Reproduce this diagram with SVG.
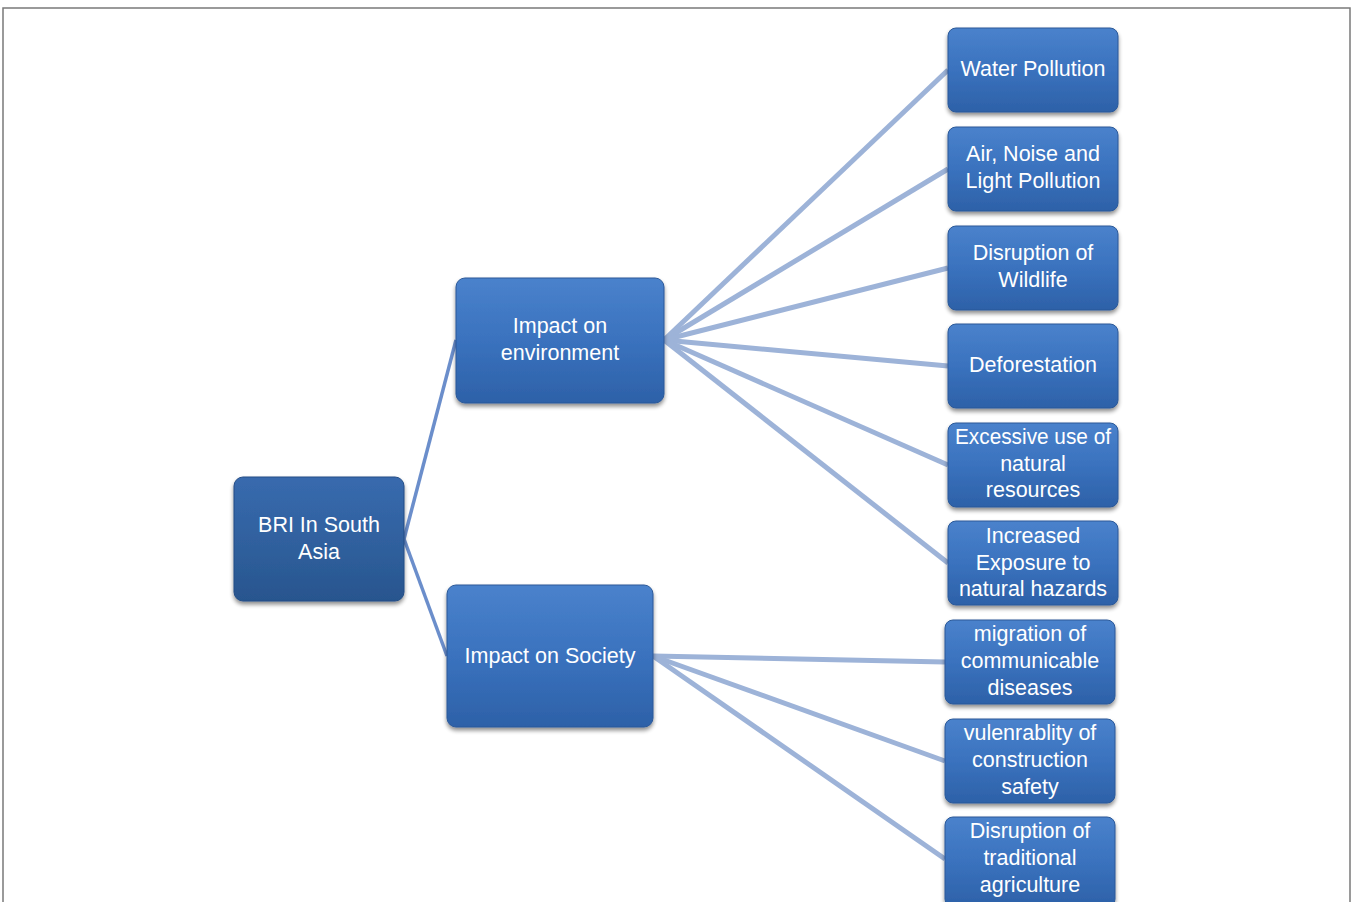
<svg xmlns="http://www.w3.org/2000/svg" width="1352" height="902" viewBox="0 0 1352 902">
<defs>
<linearGradient id="g" x1="0" y1="0" x2="0" y2="1">
<stop offset="0" stop-color="#4a82cc"/>
<stop offset="0.5" stop-color="#3a72be"/>
<stop offset="1" stop-color="#2d61a8"/>
</linearGradient>
<linearGradient id="gd" x1="0" y1="0" x2="0" y2="1">
<stop offset="0" stop-color="#386aae"/>
<stop offset="0.5" stop-color="#30619f"/>
<stop offset="1" stop-color="#28558e"/>
</linearGradient>
<filter id="sh" x="-10%" y="-10%" width="120%" height="130%">
<feGaussianBlur in="SourceAlpha" stdDeviation="2"/>
<feOffset dx="0" dy="3" result="b"/>
<feComponentTransfer><feFuncA type="linear" slope="0.45"/></feComponentTransfer>
<feMerge><feMergeNode/><feMergeNode in="SourceGraphic"/></feMerge>
</filter>
</defs>
<style>
.n{fill:url(#g);stroke:#2b5898;stroke-width:1;filter:url(#sh)}
.nd{fill:url(#gd);stroke:#244d85;stroke-width:1;filter:url(#sh)}
.t{font-family:"Liberation Sans",Arial,sans-serif;font-size:21.5px;fill:#ffffff;text-anchor:middle}
.c1{stroke:#6b8ecb;stroke-width:3.5;fill:none}
.c2{stroke:#9db3d8;stroke-width:5;fill:none}
</style>
<rect x="0" y="0" width="1352" height="902" fill="#ffffff"/>
<path d="M3,902 V8 H1350 V902" fill="none" stroke="#7a7a7a" stroke-width="1.5"/>
<g id="connectors">
<path class="c1" d="M404,539 L456,340"/>
<path class="c1" d="M404,539 L447,656"/>
<path class="c2" d="M664,340 L948,70"/>
<path class="c2" d="M664,340 L948,169"/>
<path class="c2" d="M664,340 L948,268"/>
<path class="c2" d="M664,340 L948,366"/>
<path class="c2" d="M664,340 L948,465"/>
<path class="c2" d="M664,340 L948,563"/>
<path class="c2" d="M653,656 L945,662"/>
<path class="c2" d="M653,656 L945,761"/>
<path class="c2" d="M653,656 L945,859"/>
</g>
<g id="root"><rect class="nd" x="234" y="477" width="170" height="124" rx="9"/>
<text class="t" x="319" y="532">BRI In South</text><text class="t" x="319" y="559">Asia</text></g>
<g id="env"><rect class="n" x="456" y="278" width="208" height="125" rx="9"/>
<text class="t" x="560" y="333">Impact on</text><text class="t" x="560" y="360">environment</text></g>
<g id="soc"><rect class="n" x="447" y="585" width="206" height="142" rx="9"/>
<text class="t" x="550" y="663">Impact on Society</text></g>
<g id="water"><rect class="n" x="948" y="28" width="170" height="84" rx="8"/>
<text class="t" x="1033" y="76">Water Pollution</text></g>
<g id="air"><rect class="n" x="948" y="127" width="170" height="84" rx="8"/>
<text class="t" x="1033" y="161">Air, Noise and</text><text class="t" x="1033" y="188">Light Pollution</text></g>
<g id="wildlife"><rect class="n" x="948" y="226" width="170" height="84" rx="8"/>
<text class="t" x="1033" y="260">Disruption of</text><text class="t" x="1033" y="287">Wildlife</text></g>
<g id="defor"><rect class="n" x="948" y="324" width="170" height="84" rx="8"/>
<text class="t" x="1033" y="372">Deforestation</text></g>
<g id="excess"><rect class="n" x="948" y="423" width="170" height="84" rx="8"/>
<text class="t" x="1033" y="444" textLength="156" lengthAdjust="spacingAndGlyphs">Excessive use of</text><text class="t" x="1033" y="471">natural</text><text class="t" x="1033" y="497">resources</text></g>
<g id="hazards"><rect class="n" x="948" y="521" width="170" height="84" rx="8"/>
<text class="t" x="1033" y="543">Increased</text><text class="t" x="1033" y="570">Exposure to</text><text class="t" x="1033" y="596">natural hazards</text></g>
<g id="migration"><rect class="n" x="945" y="620" width="170" height="84" rx="8"/>
<text class="t" x="1030" y="641">migration of</text><text class="t" x="1030" y="668">communicable</text><text class="t" x="1030" y="695">diseases</text></g>
<g id="vuln"><rect class="n" x="945" y="719" width="170" height="84" rx="8"/>
<text class="t" x="1030" y="740">vulenrablity of</text><text class="t" x="1030" y="767">construction</text><text class="t" x="1030" y="794">safety</text></g>
<g id="agri"><rect class="n" x="945" y="817" width="170" height="90" rx="8"/>
<text class="t" x="1030" y="838">Disruption of</text><text class="t" x="1030" y="865">traditional</text><text class="t" x="1030" y="892">agriculture</text></g>
</svg>
